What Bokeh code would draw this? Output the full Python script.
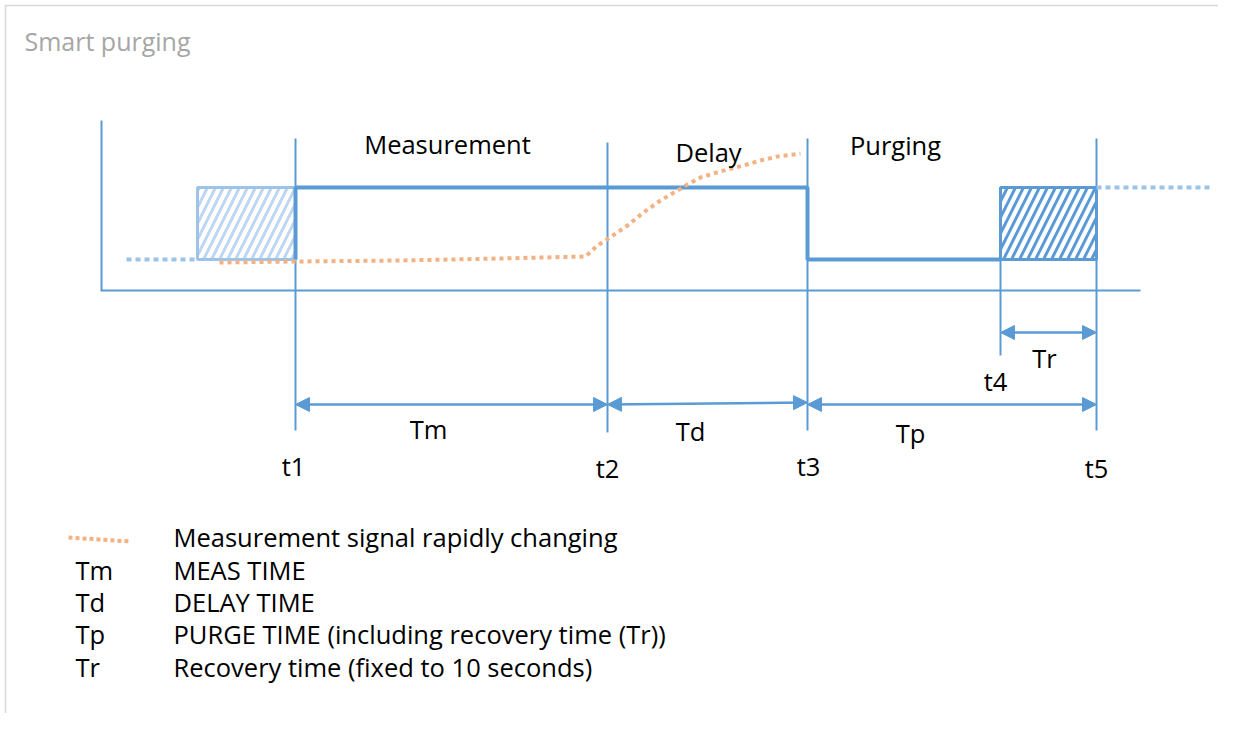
from bokeh.plotting import figure
from bokeh.models import Range1d, Arrow, NormalHead
from bokeh.core.properties import value
from bokeh.embed import file_html
from bokeh.resources import INLINE

# ---- data (diagram coordinates: time axis in px-like units, signal levels) ----
time_labels = ["t1", "t2", "t3", "t4", "t5"]
time_pos = [295, 607, 807, 1000, 1096]
high_level = 187
low_level = 259
prev_cycle_start = 197
next_cycle_end = 1213
pre_start = 126

phase_labels = ["Measurement", "Delay", "Purging"]
phase_x = [447, 708, 895]
phase_y = [143, 151, 144]

span_labels = ["Tm", "Td", "Tp", "Tr"]
span_start = [295, 607, 807, 1000]
span_end = [607, 807, 1096, 1096]
span_y0 = [404, 404, 404, 332]
span_y1 = [404, 402, 404, 332]

signal_x = [219, 295, 400, 500, 585, 597, 608, 627, 643, 660, 677, 687, 700, 713, 727, 743, 760, 777, 800]
signal_y = [262, 261, 260, 258, 256, 245, 238, 225, 212, 200, 190, 184, 177, 173, 169, 165, 160, 156, 153]

legend_keys = ["", "Tm", "Td", "Tp", "Tr"]
legend_texts = ["Measurement signal rapidly changing", "MEAS TIME", "DELAY TIME",
                "PURGE TIME (including recovery time (Tr))", "Recovery time (fixed to 10 seconds)"]
legend_y = [536, 569, 601, 633, 666]

BLUE = "#5B9BD5"
LIGHT = "#9DC3E6"
ORANGE = "#F4B183"
FONT = value("Open Sans")
FS = "25.5px"

p = figure(width=1218, height=713, x_range=Range1d(0, 1218), y_range=Range1d(713, 0),
           output_backend="svg", toolbar_location=None, min_border=0)
p.axis.visible = False
p.grid.visible = False
p.outline_line_color = None
p.background_fill_color = "white"
p.border_fill_color = "white"

# frame border
p.line([5, 5, 1218], [713, 5, 5], line_color="#d9d9d9", line_width=1.5)

# axes of the diagram
p.line([101, 101], [120, 291], line_color=BLUE, line_width=2)
p.line([101, 1140], [290, 290], line_color=BLUE, line_width=2)

# vertical time markers
vt_top = [138, 142, 138, 187, 138]
vt_bot = [430, 432, 430, 355, 430]
p.segment(x0=time_pos, y0=vt_top, x1=time_pos, y1=vt_bot, line_color=BLUE, line_width=2)

# previous-cycle hatched box (light)
p.quad(left=[prev_cycle_start], right=[time_pos[0]], top=[high_level], bottom=[low_level],
       fill_color="white", line_color=LIGHT, line_width=3,
       hatch_pattern="/", hatch_color="#BDD7EE", hatch_scale=16, hatch_weight=3)
# recovery hatched box (dark)
p.quad(left=[time_pos[3]], right=[time_pos[4]], top=[high_level], bottom=[low_level],
       fill_color="white", line_color=BLUE, line_width=3,
       hatch_pattern="/", hatch_color=BLUE, hatch_scale=16, hatch_weight=3)

# dotted continuations
p.line([pre_start, prev_cycle_start], [low_level, low_level], line_color=LIGHT, line_width=4, line_dash="5 4")
p.line([time_pos[4], next_cycle_end], [high_level, high_level], line_color=LIGHT, line_width=4, line_dash="5 4")

# main step signal
p.line([time_pos[0], time_pos[0], time_pos[2], time_pos[2], time_pos[3]],
       [low_level, high_level, high_level, low_level, low_level],
       line_color=BLUE, line_width=4)

# measurement signal (orange dotted)
p.line(signal_x, signal_y, line_color=ORANGE, line_width=4, line_dash="4 4")

# span arrows
for xs, xe, y0, y1 in zip(span_start, span_end, span_y0, span_y1):
    p.add_layout(Arrow(x_start=xs, y_start=y0, x_end=xe, y_end=y1,
                       line_color=BLUE, line_width=2.5,
                       start=NormalHead(size=14, fill_color=BLUE, line_color=BLUE),
                       end=NormalHead(size=14, fill_color=BLUE, line_color=BLUE)))

# phase labels
p.text(x=phase_x, y=phase_y, text=phase_labels, text_font=FONT, text_font_size=FS,
       text_align="center", text_baseline="middle", text_color="black")

# span labels
p.text(x=[428, 690, 910, 1044], y=[428, 430, 432, 357], text=span_labels, text_font=FONT,
       text_font_size=FS, text_align="center", text_baseline="middle", text_color="black")

# time labels
p.text(x=[293, 607, 808, 995, 1096], y=[465, 467, 465, 380, 467], text=time_labels, text_font=FONT,
       text_font_size=FS, text_align="center", text_baseline="middle", text_color="black")

# title
p.text(x=[24], y=[40], text=["Smart purging"], text_font=FONT, text_font_size="25px",
       text_align="left", text_baseline="middle", text_color="#a6a6a6")

# legend
p.line([68, 99, 130], [537, 539, 541], line_color=ORANGE, line_width=4, line_dash="4 3")
p.text(x=[75] * 5, y=legend_y, text=legend_keys, text_font=FONT, text_font_size=FS,
       text_align="left", text_baseline="middle", text_color="black")
p.text(x=[173] * 5, y=legend_y, text=legend_texts, text_font=FONT, text_font_size=FS,
       text_align="left", text_baseline="middle", text_color="black")

open("out.html", "w").write(file_html(p, INLINE))
